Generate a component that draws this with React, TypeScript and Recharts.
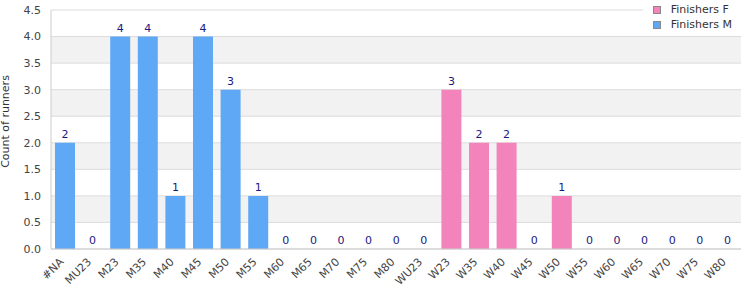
import React from 'react'
import { Bar, BarChart, CartesianGrid, LabelList, Legend, XAxis, YAxis } from 'recharts'

const categories = ['#NA', 'MU23', 'M23', 'M35', 'M40', 'M45', 'M50', 'M55', 'M60', 'M65', 'M70', 'M75', 'M80', 'WU23', 'W23', 'W35', 'W40', 'W45', 'W50', 'W55', 'W60', 'W65', 'W70', 'W75', 'W80']
const finishersM = [2, 0, 4, 4, 1, 4, 3, 1, 0, 0, 0, 0, 0, 0, null, null, null, null, null, null, null, null, null, null, null]
const finishersF = [null, null, null, null, null, null, null, null, null, null, null, null, null, null, 3, 2, 2, 0, 1, 0, 0, 0, 0, 0, 0]
const yTicks = [0, 0.5, 1, 1.5, 2, 2.5, 3, 3.5, 4, 4.5]

const data = categories.map((c, i) => ({ cat: c, M: finishersM[i], F: finishersF[i] }))

const font = 'DejaVu Sans, Verdana, sans-serif'

const legendItems = [
    { name: 'Finishers F', color: '#f283bb' },
    { name: 'Finishers M', color: '#5fa8f5' },
]

function MyLegend() {
    return (
        <div style={{ background: '#fff', padding: '2px 10px 4px 10px', fontFamily: font, fontSize: 11, color: '#333' }}>
            {legendItems.map(it => (
                <div key={it.name} style={{ display: 'flex', alignItems: 'center', height: 15 }}>
                    <span style={{ width: 6, height: 6, background: it.color, border: '1px solid #888', marginRight: 10 }} />
                    {it.name}
                </div>
            ))}
        </div>
    )
}

function XTick({ x, y, payload }: any) {
    return (
        <text x={x - 3} y={y + 3} transform={`rotate(-45 ${x - 3} ${y + 3})`} textAnchor='end' dominantBaseline='central'
            fill='#444' fontSize={11} fontFamily={font}>
            {payload.value}
        </text>
    )
}

// tiny height so zero-value bars still get their "0" label
const zeroMin = (v: any) => (v === 0 ? 0.01 : 0)

export default function App() {
    return (
        <div style={{ position: 'absolute', left: 0, top: 0 }}>
            <BarChart width={750} height={300} data={data} barCategoryGap={0} barGap={-20} margin={{ top: 10, right: 9, left: 0, bottom: 0 }}>
                <CartesianGrid vertical={false} stroke='#dcdcdc' horizontalFill={['#ffffff', '#f2f2f2']} />
                <XAxis dataKey='cat' interval={0} height={51} tick={<XTick />} tickLine={false} stroke='#cccccc' />
                <YAxis width={51} domain={[0, 4.5]} ticks={yTicks} tickFormatter={(v: number) => v.toFixed(1)}
                    tickLine={false} tickMargin={4} stroke='#cccccc' tick={{ fill: '#444', fontSize: 11, fontFamily: font }}
                    label={{ value: 'Count of runners', angle: -90, position: 'insideLeft', offset: 0, dx: 5, dy: -8, style: { fill: '#333', fontSize: 11, fontFamily: font, textAnchor: 'middle' } }} />
                <YAxis yAxisId='r' orientation='right' width={0} domain={[0, 4.5]} tick={false} tickLine={false} stroke='#dcdcdc' />
                <Legend content={<MyLegend />} layout='vertical' align='center' verticalAlign='middle'
                    wrapperStyle={{ top: 0, right: 8, left: 'auto', width: 'auto' }} />
                <Bar dataKey='F' name='Finishers F' fill='#f283bb' barSize={20} minPointSize={zeroMin} isAnimationActive={false}>
                    <LabelList dataKey='F' position='top' fill='#1a1a80' fontSize={11} fontFamily={font} />
                </Bar>
                <Bar dataKey='M' name='Finishers M' fill='#5fa8f5' barSize={20} minPointSize={zeroMin} isAnimationActive={false}>
                    <LabelList dataKey='M' position='top' fill='#1a1a80' fontSize={11} fontFamily={font} />
                </Bar>
            </BarChart>
        </div>
    )
}
